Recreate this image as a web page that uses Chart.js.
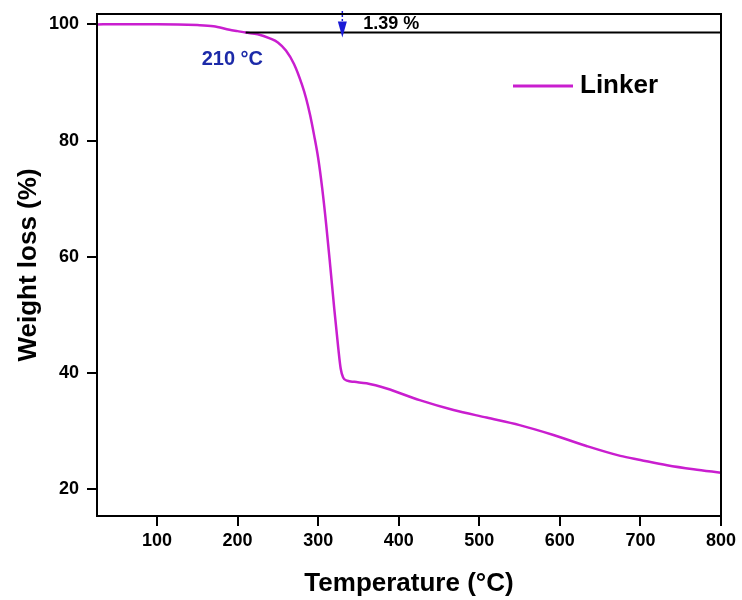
<!DOCTYPE html>
<html><head><meta charset="utf-8">
<script src="https://cdn.jsdelivr.net/npm/chart.js@4.4.0/dist/chart.umd.min.js"></script>
<style>html,body{margin:0;padding:0;background:#fff}#wrap{width:742px;height:600px}</style>
</head><body><div id="wrap"><canvas id="c" width="742" height="600"></canvas></div>
<script>
// ---- data ----
const temperature = [25, 50, 100, 150, 170, 190, 200, 210, 225, 240, 250, 260, 270, 280, 285, 290, 295, 300, 305, 310, 315, 320, 325, 328, 331, 336, 345, 360, 385, 426, 468, 509, 550, 592, 633, 675, 700, 733, 766, 800];
const weight = [100.0, 100.05, 100.05, 99.9, 99.7, 99.1, 98.85, 98.6, 98.3, 97.6, 96.9, 95.5, 93.2, 89.6, 87.3, 84.4, 80.9, 77.0, 71.8, 65.5, 58.4, 51.0, 44.2, 40.7, 39.2, 38.65, 38.45, 38.2, 37.3, 35.3, 33.6, 32.3, 31.0, 29.3, 27.4, 25.7, 25.0, 24.1, 23.4, 22.8];
const xTicks = [100, 200, 300, 400, 500, 600, 700, 800];
const yTicks = [20, 40, 60, 80, 100];
const seriesName = 'Linker';
const onsetTemp = 210;
const onsetWeight = 98.61;
const arrowTemp = 330;
const lossLabel = '1.39 %';
const onsetLabel = '210 °C';

const FONT = "'Liberation Sans', Arial, sans-serif";
const LINE = '#C91ECF';
const BLUE = '#1a1ad6';

const deco = {
  id: 'deco',
  afterDatasetsDraw(chart) {
    const {ctx, chartArea: a, scales: {x, y}} = chart;
    ctx.save();
    ctx.strokeStyle = '#000'; ctx.lineWidth = 2;
    ctx.strokeRect(a.left, a.top, a.right - a.left, a.bottom - a.top);
    const yl = y.getPixelForValue(onsetWeight);
    const xo = x.getPixelForValue(onsetTemp);
    ctx.beginPath(); ctx.moveTo(xo, yl); ctx.lineTo(a.right, yl); ctx.stroke();
    // arrow
    const xa = x.getPixelForValue(arrowTemp);
    ctx.strokeStyle = BLUE; ctx.lineWidth = 1.5; ctx.setLineDash([2, 2]);
    ctx.beginPath(); ctx.moveTo(xa, a.top - 3); ctx.lineTo(xa, yl - 10); ctx.stroke();
    ctx.setLineDash([]);
    ctx.fillStyle = BLUE;
    ctx.beginPath(); ctx.moveTo(xa - 4.5, yl - 11); ctx.lineTo(xa + 4.5, yl - 11); ctx.lineTo(xa, yl + 5); ctx.closePath(); ctx.fill();
    // texts
    ctx.textBaseline = 'middle'; ctx.textAlign = 'left';
    ctx.fillStyle = '#000'; ctx.font = 'bold 18px ' + FONT;
    ctx.fillText(lossLabel, xa + 21, (a.top + yl) / 2 + 1);
    ctx.fillStyle = '#1c2aa8'; ctx.font = 'bold 20px ' + FONT;
    ctx.fillText(onsetLabel, xo - 44, yl + 27);
    // legend
    const ly = a.top + 72;
    ctx.strokeStyle = LINE; ctx.lineWidth = 3;
    ctx.beginPath(); ctx.moveTo(a.left + 416, ly); ctx.lineTo(a.left + 476, ly); ctx.stroke();
    ctx.fillStyle = '#000'; ctx.font = 'bold 26px ' + FONT;
    ctx.fillText(chart.data.datasets[0].label, a.left + 483, ly);
    ctx.restore();
  }
};

new Chart(document.getElementById('c'), {
  type: 'line',
  data: {
    datasets: [{
      label: seriesName,
      data: temperature.map((t, i) => ({x: t, y: weight[i]})),
      borderColor: LINE,
      borderWidth: 2.5,
      pointRadius: 0,
      cubicInterpolationMode: 'monotone',
      fill: false
    }]
  },
  options: {
    responsive: false,
    animation: false,
    layout: {padding: {top: 14, right: 21, left: 0, bottom: 0}},
    plugins: {legend: {display: false}, tooltip: {enabled: false}},
    scales: {
      x: {
        type: 'linear', min: 25.5, max: 800,
        afterBuildTicks: s => { s.ticks = xTicks.map(v => ({value: v})); },
        afterFit: s => { s.height = 84; s.paddingLeft = 0; s.paddingRight = 0; },
        grid: {display: true, drawOnChartArea: false, drawTicks: true, tickLength: 10, color: '#000', lineWidth: 2},
        border: {display: true, color: '#000', width: 2},
        ticks: {color: '#000', padding: 4, maxRotation: 0, font: {family: FONT, size: 18, weight: 'bold'}},
        title: {display: true, text: 'Temperature (°C)', color: '#000', padding: {top: 0, bottom: 1}, font: {family: FONT, size: 26, weight: 'bold'}}
      },
      y: {
        type: 'linear', min: 15.35, max: 101.8,
        afterBuildTicks: s => { s.ticks = yTicks.map(v => ({value: v})); },
        afterFit: s => { s.width = 97; s.paddingTop = 0; s.paddingBottom = 0; },
        grid: {display: true, drawOnChartArea: false, drawTicks: true, tickLength: 10, color: '#000', lineWidth: 2},
        border: {display: true, color: '#000', width: 2},
        ticks: {color: '#000', padding: 8, font: {family: FONT, size: 18, weight: 'bold'}},
        title: {display: true, text: 'Weight loss (%)', color: '#000', padding: {top: 13, bottom: 0}, font: {family: FONT, size: 26, weight: 'bold'}}
      }
    }
  },
  plugins: [deco]
});
</script>
</body></html>
